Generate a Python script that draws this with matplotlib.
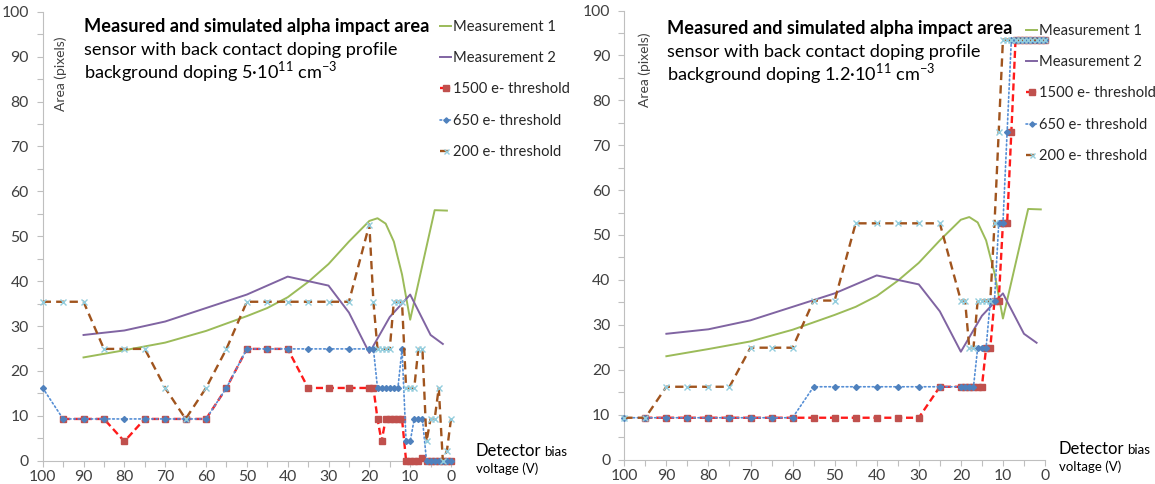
import numpy as np
import matplotlib
matplotlib.use("Agg")
import matplotlib.pyplot as plt
from matplotlib.ticker import MultipleLocator

plt.rcParams['font.family'] = ['Lato', 'DejaVu Sans']

# ---------------- data ----------------
V_m1 = [90, 80, 70, 60, 50, 45, 40, 35, 30, 25, 20, 18, 16, 14, 12, 10, 4, 1]
meas1 = [23.0, 24.6, 26.3, 28.9, 32.2, 34.0, 36.4, 39.8, 43.8, 48.8, 53.4, 54.0, 52.8, 48.8, 41.5, 31.4, 55.8, 55.7]
V_m2 = [90, 80, 70, 60, 50, 40, 30, 25, 20, 15, 10, 5, 2]
meas2 = [28, 29, 31, 34, 37, 41, 39, 33, 24, 32, 37, 28, 26]

V_sim = [100, 95, 90, 85, 80, 75, 70, 65, 60, 55, 50, 45, 40, 35, 30, 25, 20, 19, 18, 17, 16,
         15, 14, 13, 12, 11, 10, 9, 8, 7, 6, 5, 4, 3, 2, 1, 0]
nan = float('nan')

# left panel: background doping 5e11
thr1500_L = [nan, 9.3, 9.3, 9.3, 4.3, 9.3, 9.3, 9.3, 9.3, 16.2, 24.9, 24.9, 24.9, 16.2, 16.2, 16.2, 16.2, 16.2, 9.3, 4.3, 9.3,
             9.3, 9.3, 9.3, 9.3, 0, 0, 0, 0, 0.7, 0, 0, 0, 0, 0, 0, 0]
thr650_L = [16.2, 9.3, 9.3, 9.3, 9.3, 9.3, 9.3, 9.3, 9.3, 16.2, 24.9, 24.9, 24.9, 24.9, 24.9, 24.9, 24.9, 24.9, 16.2, 16.2, 16.2,
            16.2, 16.2, 16.2, 24.9, 4.3, 4.3, 9.3, 9.3, 9.3, 0, 0, 0, 0, 0, 0, 0]
thr200_L = [35.4, 35.4, 35.4, 24.9, 24.9, 24.9, 16.2, 9.3, 16.2, 24.9, 35.4, 35.4, 35.4, 35.4, 35.4, 35.4, 52.6, 35.4, 24.9, 24.9, 24.9,
            24.9, 35.4, 35.4, 35.4, 16.2, 16.2, 16.2, 24.9, 24.9, 4.3, 9.3, 9.3, 16.2, 0, 2.2, 9.3]

# right panel: background doping 1.2e11
thr1500_R = [nan, 9.3, 9.3, 9.3, 9.3, 9.3, 9.3, 9.3, 9.3, 9.3, 9.3, 9.3, 9.3, 9.3, 9.3, 16.2, 16.2, 16.2, 16.2, 16.2, 16.2,
             16.2, 24.9, 24.9, 35.4, 35.4, 52.6, 52.6, 73.0, 93.5, 93.5, 93.5, 93.5, 93.5, 93.5, 93.5, 93.5]
thr650_R = [9.3, 9.3, 9.3, 9.3, 9.3, 9.3, 9.3, 9.3, 9.3, 16.2, 16.2, 16.2, 16.2, 16.2, 16.2, 16.2, 16.2, 16.2, 16.2, 16.2, 24.9,
            24.9, 24.9, 35.4, 35.4, 52.6, 52.6, 73.0, 93.5, 93.5, 93.5, 93.5, 93.5, 93.5, 93.5, 93.5, 93.5]
thr200_R = [9.3, 9.3, 16.2, 16.2, 16.2, 16.2, 24.9, 24.9, 24.9, 35.4, 35.4, 52.6, 52.6, 52.6, 52.6, 52.6, 35.4, 35.4, 24.9, 24.9, 35.4,
            35.4, 35.4, 35.4, 52.6, 73.0, 93.5, 93.5, 93.5, 93.5, 93.5, 93.5, 93.5, 93.5, 93.5, 93.5, 93.5]

labels = ["Measurement 1", "Measurement 2", "1500 e- threshold", "650 e- threshold", "200 e- threshold"]
title = "Measured and simulated alpha impact area"
subtitle = "sensor with back contact doping profile"
doping_L = r"background doping 5·10$^{\mathregular{11}}$ cm$^{\mathregular{-3}}$"
doping_R = r"background doping 1.2·10$^{\mathregular{11}}$ cm$^{\mathregular{-3}}$"

# ---------------- style ----------------
W, H = 1155, 484
fig = plt.figure(figsize=(W / 100, H / 100), dpi=100)

def fx(px):
    return px / W

def fy(py):
    return 1 - py / H

GREEN = '#9bbb59'
PURPLE = '#8064a2'
RED_LINE = '#ff1a1a'
RED_MK = '#c0504d'
BLUE = '#4f81bd'
BLUE_LINE = '#558ed5'
BROWN = '#a0541e'
CYAN = '#93cddd'
AXC = '#bfbfbf'
TXT = '#404040'

TICK_FS = 11.3
LEG_FS = 10.6
TITLE_FS = 13.1


def draw_panel(ax, thr1500, thr650, thr200):
    l1, = ax.plot(V_m1, meas1, color=GREEN, lw=1.4, clip_on=False, zorder=3)
    l2, = ax.plot(V_m2, meas2, color=PURPLE, lw=1.4, clip_on=False, zorder=3)
    l3, = ax.plot(V_sim, thr1500, color=RED_LINE, lw=1.7, dashes=(3, 1.6), marker='s', ms=4.8,
                  mfc=RED_MK, mec=RED_MK, clip_on=False, zorder=4)
    l4, = ax.plot(V_sim, thr650, color=BLUE_LINE, lw=1.2, dashes=(1, 1.6), marker='D', ms=3.0,
                  mfc=BLUE, mec=BLUE, clip_on=False, zorder=5, dash_capstyle='round')
    l5, = ax.plot(V_sim, thr200, color=BROWN, lw=1.7, dashes=(3.5, 2.2), marker='x', ms=4.0,
                  mec=CYAN, mew=1.0, clip_on=False, zorder=6)
    ax.set_xlim(100, 0)
    ax.set_ylim(0, 100)
    ax.xaxis.set_major_locator(MultipleLocator(10))
    ax.xaxis.set_minor_locator(MultipleLocator(5))
    ax.yaxis.set_major_locator(MultipleLocator(10))
    ax.yaxis.set_minor_locator(MultipleLocator(5))
    for s in ['top', 'right']:
        ax.spines[s].set_visible(False)
    for s in ['left', 'bottom']:
        ax.spines[s].set_color(AXC)
        ax.spines[s].set_linewidth(0.8)
    ax.tick_params(axis='both', which='both', direction='out', color=AXC, width=0.8, length=4,
                   labelcolor=TXT, labelsize=TICK_FS)
    ax.tick_params(axis='x', which='major', pad=3)
    ax.tick_params(axis='y', which='major', pad=6)
    ax.patch.set_alpha(0)
    return [l1, l2, l3, l4, l5]


axL = fig.add_axes([fx(42.7), fy(460.7), fx(451 - 42.7), (460.7 - 11.7) / H])
axR = fig.add_axes([fx(624.3), fy(459.5), fx(1045 - 624.3), (459.5 - 10.5) / H])

hL = draw_panel(axL, thr1500_L, thr650_L, thr200_L)
hR = draw_panel(axR, thr1500_R, thr650_R, thr200_R)

for ax, handles, anchor in [(axL, hL, ((440 - 42.7) / 408.3, (460.7 - 20) / 449)),
                            (axR, hR, ((1026 - 624.3) / 420.7, (459.5 - 24) / 449))]:
    leg = ax.legend(handles, labels, loc='upper left', bbox_to_anchor=anchor, frameon=False,
                    fontsize=LEG_FS, handlelength=0.75, handletextpad=0.1, labelspacing=1.17,
                    borderaxespad=0, borderpad=0, markerscale=0.9)
    for t in leg.get_texts():
        t.set_color('#262626')

# y-axis titles
axL.text((61 - 42.7) / 408.3, (460.7 - 74) / 449, "Area (pixels)", rotation=90, ha='center', va='center',
         fontsize=10, color=TXT, transform=axL.transAxes)
axR.text((645 - 624.3) / 420.7, (459.5 - 70) / 449, "Area (pixels)", rotation=90, ha='center', va='center',
         fontsize=10, color=TXT, transform=axR.transAxes)

# chart titles
for x0, ys, dop in [(84.4, (31.7, 55.0, 77.7), doping_L), (667.4, (34.3, 57.3, 80.0), doping_R)]:
    fig.text(fx(x0), fy(ys[0]), title, fontsize=TITLE_FS, fontweight='bold', color='black', va='baseline')
    fig.text(fx(x0), fy(ys[1]), subtitle, fontsize=TITLE_FS, color='black', va='baseline')
    fig.text(fx(x0), fy(ys[2]), dop, fontsize=TITLE_FS, color='black', va='baseline')

# x-axis titles
fig.canvas.draw()
renderer = fig.canvas.get_renderer()
for x0, yb1, yb2 in [(475.7, 456.0, 473.0), (1059.0, 454.3, 470.7)]:
    t = fig.text(fx(x0), fy(yb1), "Detector", fontsize=12, color='black', va='baseline')
    bb = t.get_window_extent(renderer)
    fig.text(fx(bb.x1 + 3), fy(yb1), "bias", fontsize=9.5, color='black', va='baseline')
    fig.text(fx(x0), fy(yb2), "voltage (V)", fontsize=9.5, color='black', va='baseline')

fig.savefig("out.png", dpi=100)
